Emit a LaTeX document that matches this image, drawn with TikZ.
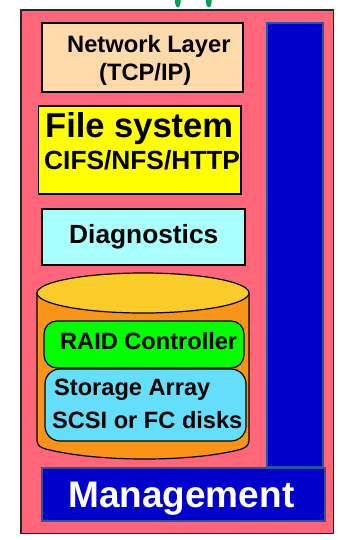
\documentclass[tikz,border=0pt]{standalone}
\usepackage{fontspec}
\setmainfont{Liberation Sans}
\definecolor{outerpink}{RGB}{255,102,122}
\definecolor{peach}{RGB}{255,218,170}
\definecolor{fsyellow}{RGB}{255,255,0}
\definecolor{diagcyan}{RGB}{170,255,255}
\definecolor{cylbody}{RGB}{250,148,24}
\definecolor{cyltop}{RGB}{250,204,42}
\definecolor{raidgreen}{RGB}{0,255,0}
\definecolor{storcyan}{RGB}{100,222,250}
\definecolor{mgmtblue}{RGB}{0,0,204}
\definecolor{mgmtedge}{RGB}{30,90,155}
\definecolor{arrgreen}{RGB}{0,160,90}
\tikzset{
  box/.style={draw=black, line width=1.5pt},
  bluebox/.style={draw=mgmtedge, line width=2pt, fill=mgmtblue},
  lbl/.style={anchor=base west, inner sep=0pt, font=\bfseries},
}
\begin{document}
\begin{tikzpicture}[x=1pt,y=-1pt]
\useasboundingbox (0,0) rectangle (337,540);
% green arrow ends at top
\begin{scope}
\clip (0,0) rectangle (337,9);
\fill[arrgreen] (177.8,0.5) ellipse [x radius=2.9, y radius=7];
\fill[arrgreen] (208.8,0.5) ellipse [x radius=2.9, y radius=7];
\end{scope}
% outer box
\draw[box, fill=outerpink, draw=black!85] (21,10) rectangle (333.5,533.5);
% blue vertical bar
\draw[bluebox] (267,23) rectangle (323,467);
% management
\draw[bluebox] (41.5,468) rectangle (324.5,521);
\node[lbl, text=white, font=\bfseries\fontsize{37}{40}\selectfont] (mgmt) at (68,507) {Management};
% network layer
\draw[box, fill=peach] (42,23) rectangle (243,92);
\node[lbl, font=\bfseries\fontsize{23.7}{26}\selectfont] (net1) at (67,52.5) {Network Layer};
\node[lbl, font=\bfseries\fontsize{23.7}{26}\selectfont] (net2) at (99,81) {(TCP/IP)};
% file system
\draw[box, fill=fsyellow] (38.5,106) rectangle (241,194);
\node[lbl, font=\bfseries\fontsize{34.5}{36}\selectfont] (fs1) at (45,137.5) {File system};
\node[lbl, font=\bfseries\fontsize{26.3}{28}\selectfont] (fs2) at (44,170) {CIFS/NFS/HTTP};
% diagnostics
\draw[box, fill=diagcyan] (42,209) rectangle (245,265);
\node[lbl, font=\bfseries\fontsize{26.3}{28}\selectfont] (diag) at (69,243) {Diagnostics};
% cylinder
\draw[line width=1.2pt, fill=cylbody] (37,293) -- (37,441)
  .. controls (38,446) and (40,448) .. (50,450)
  .. controls (100,462) and (190,462) .. (238,450)
  .. controls (246,448) and (248,446) .. (249,441) -- (249,293) -- cycle;
\draw[line width=1.2pt, fill=cyltop] (143,293) ellipse [x radius=106, y radius=20];
% raid
\draw[line width=1.2pt, fill=raidgreen, rounded corners=13pt] (44,321) rectangle (244,368);
\node[lbl, font=\bfseries\fontsize{23.6}{26}\selectfont] (raid) at (60,349) {RAID Controller};
% storage
\draw[line width=1.2pt, fill=storcyan, rounded corners=15pt] (45,369) rectangle (246,441);
\node[lbl, font=\bfseries\fontsize{23.6}{26}\selectfont] (st1) at (54,395) {Storage Array};
\node[lbl, font=\bfseries\fontsize{23.6}{26}\selectfont] (st2) at (52,428) {SCSI or FC disks};
\end{tikzpicture}
\end{document}
